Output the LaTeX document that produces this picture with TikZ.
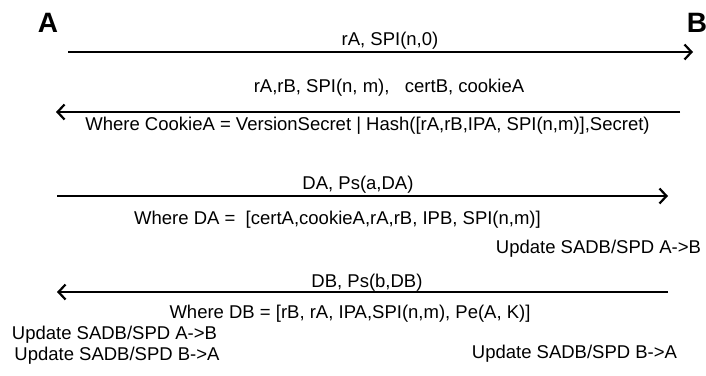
\documentclass[tikz,border=0pt]{standalone}
\usepackage{fontspec}
\setmainfont{Liberation Sans}
\usetikzlibrary{arrows.meta}
\tikzset{
  msg/.style={line width=2pt, -{Straight Barb[length=7pt,width=15pt,line width=2.2pt]}},
  lbl/.style={anchor=base, inner sep=0pt, font=\fontsize{18.5}{22}\selectfont},
  party/.style={inner sep=0pt, font=\fontsize{28}{30}\selectfont\bfseries}
}
\begin{document}
\begin{tikzpicture}[x=1pt,y=-1pt]
\path[use as bounding box] (0,0) rectangle (706,375);
\begin{scope}
\clip (0,0) rectangle (706,375);
\node[party] (A) at (48,23) {A};
\node[party] (B) at (697,23) {B};
\end{scope}
% message 1
\coordinate (m1s) at (68,52);
\coordinate (m1e) at (693,52);
\draw[msg] (m1s) -- (m1e);
\node[lbl] (t1) at (390,45) {rA, SPI(n,0)};
% message 2
\coordinate (m2s) at (680,112);
\coordinate (m2e) at (56,112);
\draw[msg] (m2s) -- (m2e);
\node[lbl] (t2) at (389,92) {rA,rB, SPI(n, m),\ \ \ certB, cookieA};
\node[lbl] (t3) at (367.5,130) {Where CookieA = VersionSecret | Hash([rA,rB,IPA, SPI(n,m)],Secret)};
% message 3
\coordinate (m3s) at (57,196);
\coordinate (m3e) at (668,196);
\draw[msg] (m3s) -- (m3e);
\node[lbl] (t4) at (358,189) {DA, Ps(a,DA)};
\node[lbl] (t5) at (337.5,224) {Where DA =\ \ [certA,cookieA,rA,rB, IPB, SPI(n,m)]};
\node[lbl] (t6) at (598.5,253) {Update SADB/SPD A->B};
% message 4
\coordinate (m4s) at (668,292);
\coordinate (m4e) at (57,292);
\draw[msg] (m4s) -- (m4e);
\node[lbl] (t7) at (367,287) {DB, Ps(b,DB)};
\node[lbl] (t8) at (350,318) {Where DB = [rB, rA, IPA,SPI(n,m), Pe(A, K)]};
\node[lbl] (t9) at (114.5,339) {Update SADB/SPD A->B};
\node[lbl] (t10) at (117,360) {Update SADB/SPD B->A};
\node[lbl] (t11) at (574.5,358) {Update SADB/SPD B->A};
\end{tikzpicture}
\end{document}
